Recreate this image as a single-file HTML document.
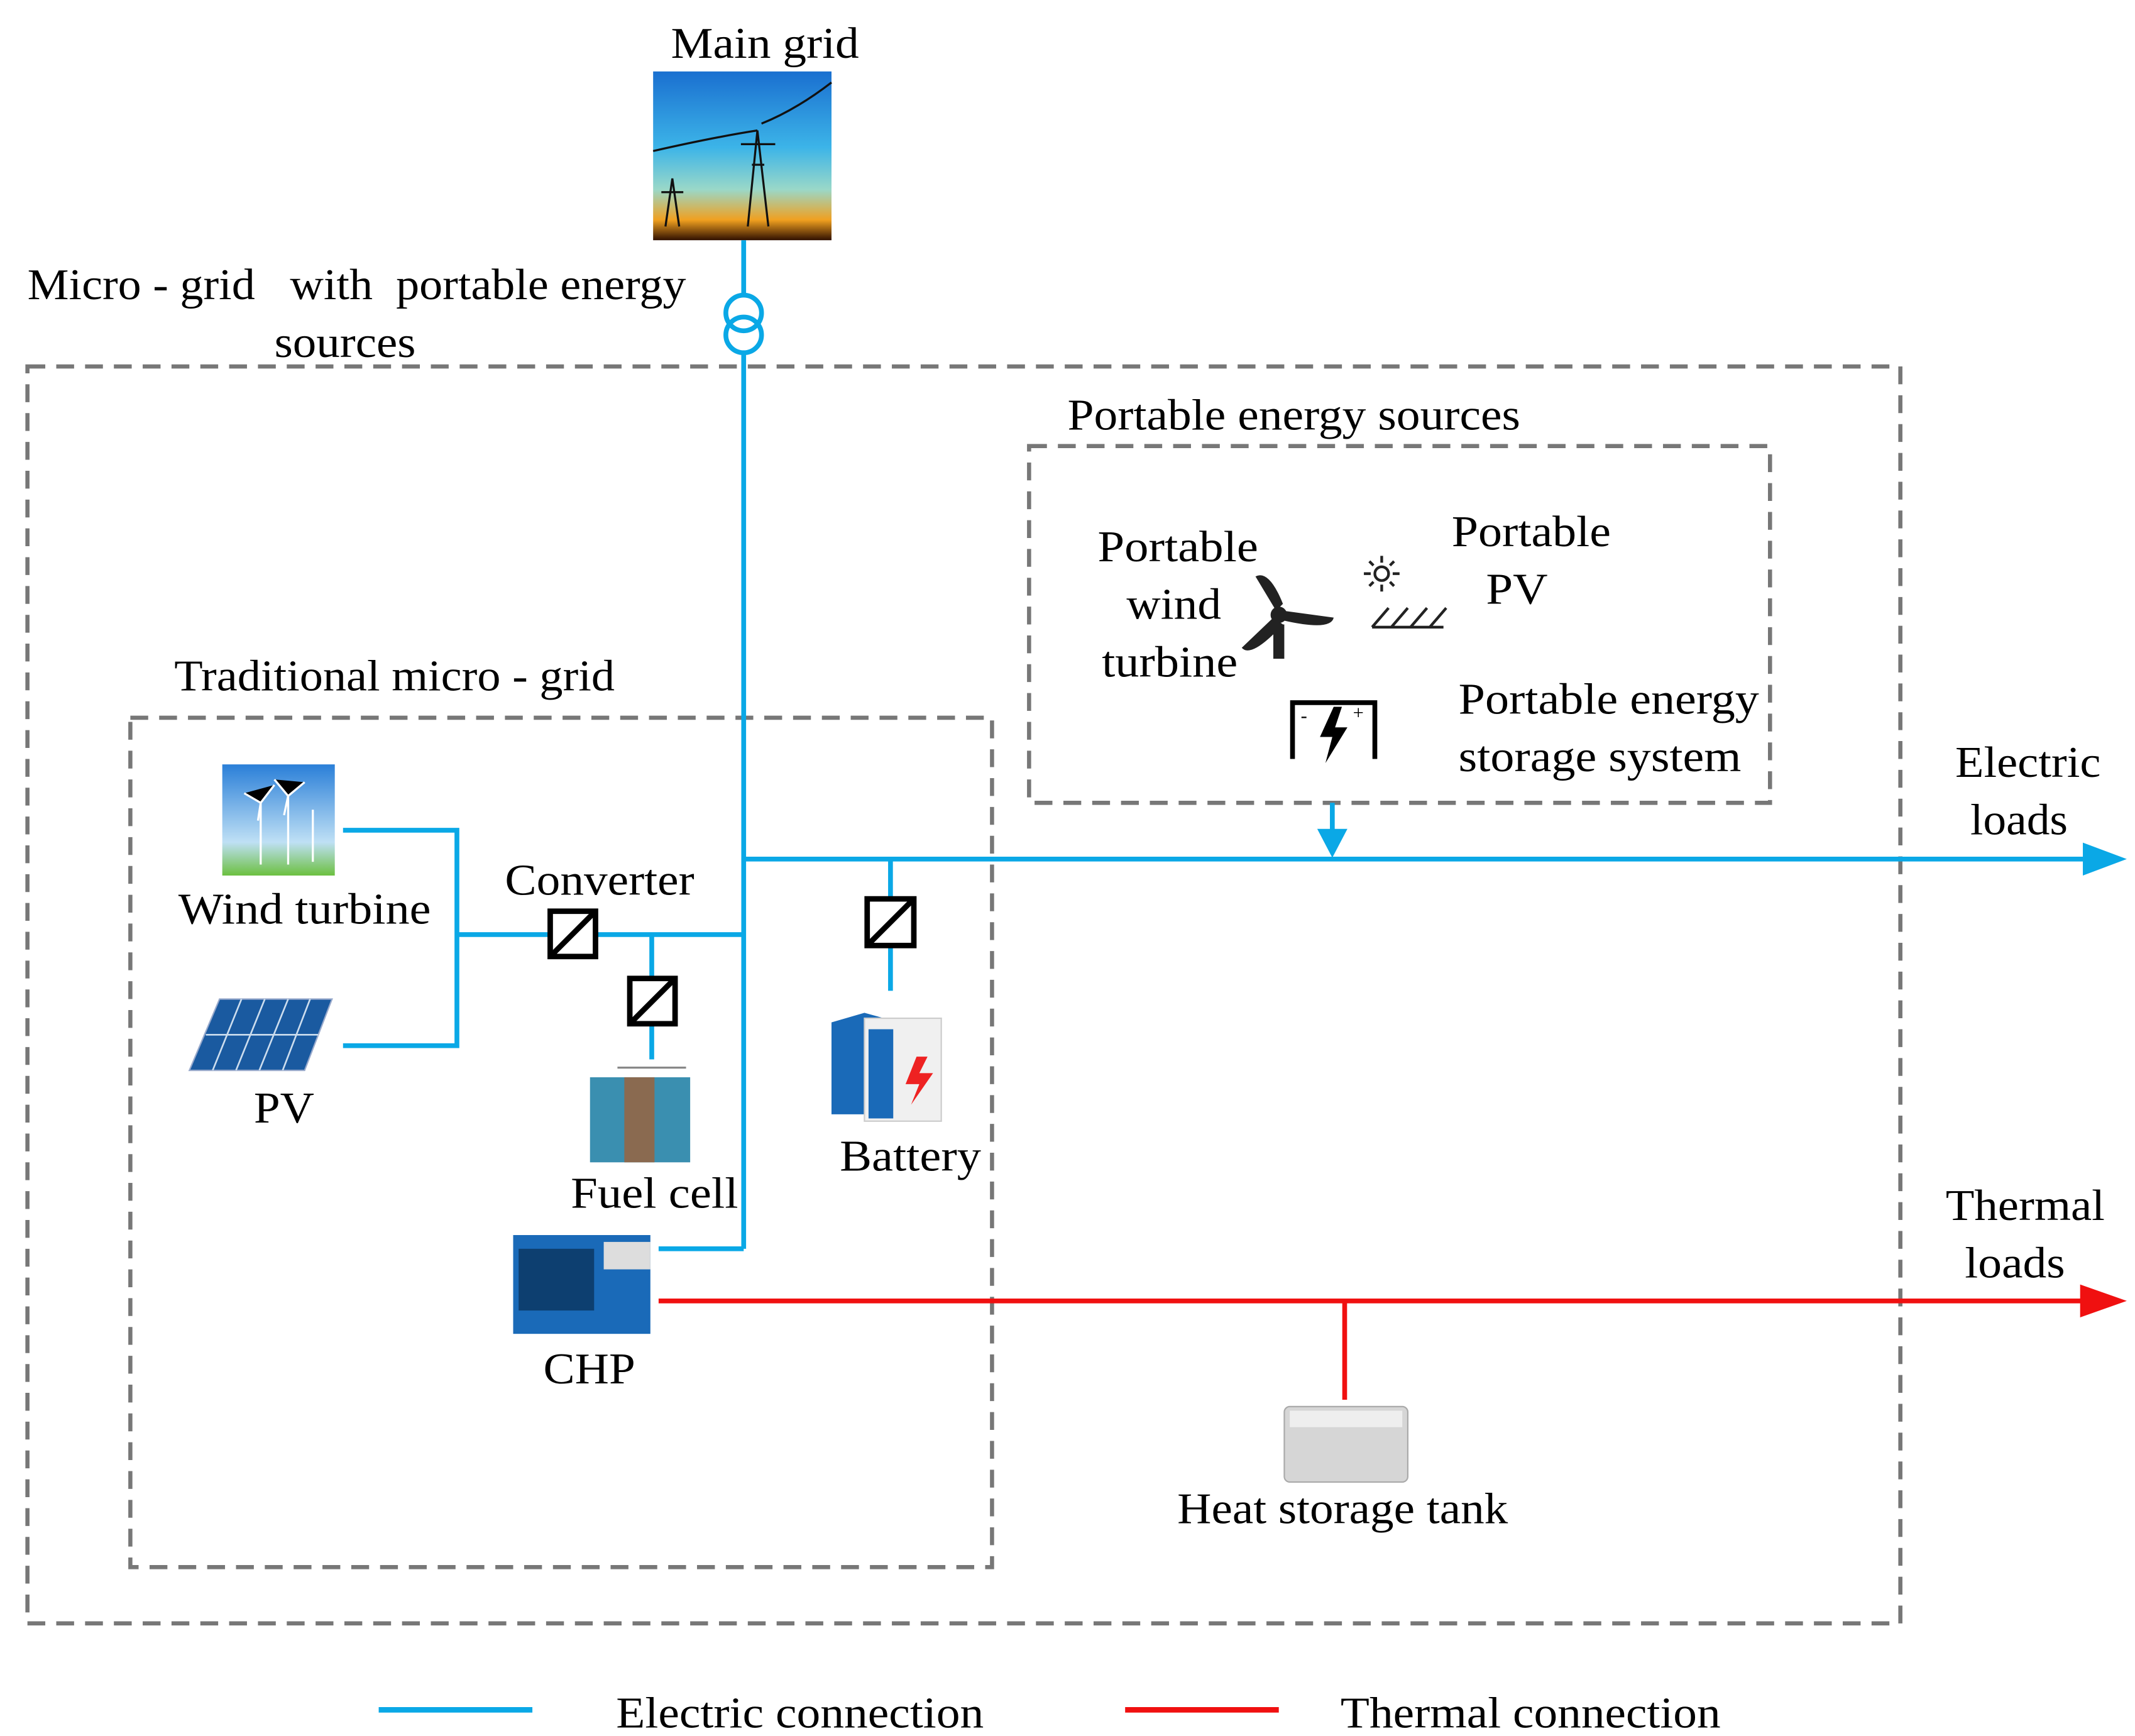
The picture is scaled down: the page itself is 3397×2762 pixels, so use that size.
<!DOCTYPE html>
<html><head><meta charset="utf-8"><style>
html,body{margin:0;padding:0;background:#fff;}
svg{display:block;}
text{font-family:"Liberation Serif",serif;font-size:32px;fill:#000;}
</style></head><body>
<svg width="3397" height="2762" viewBox="0 0 1556 1265" xmlns="http://www.w3.org/2000/svg">
<defs>
<linearGradient id="sky" x1="0" y1="0" x2="0" y2="1">
<stop offset="0" stop-color="#1a6fd0"/><stop offset="0.45" stop-color="#3cb4e8"/><stop offset="0.7" stop-color="#9ad8c8"/><stop offset="0.88" stop-color="#f0a020"/><stop offset="1" stop-color="#301000"/>
</linearGradient>
<linearGradient id="wsky" x1="0" y1="0" x2="0" y2="1"><stop offset="0" stop-color="#2a7fd8"/><stop offset="0.7" stop-color="#bfe0f5"/><stop offset="1" stop-color="#6cc040"/></linearGradient>
</defs>
<text x="489" y="42" textLength="137" lengthAdjust="spacingAndGlyphs">Main grid</text>
<rect x="476" y="52" width="130" height="123" fill="url(#sky)"/>
<g stroke="#111" stroke-width="1.5" fill="none">
<path d="M545 165 L552 95 L560 165 M548 120 L557 120 M540 105 L565 105"/>
<path d="M485 165 L490 130 L495 165 M482 140 L498 140"/>
<path d="M555 90 Q580 80 606 60 M552 95 Q520 100 476 110"/>
</g>
<text x="20" y="218" textLength="480" lengthAdjust="spacingAndGlyphs">Micro - grid &#160; with &#160;portable energy</text>
<text x="200" y="260" textLength="103" lengthAdjust="spacingAndGlyphs">sources</text>
<g fill="none" stroke="#777" stroke-width="3" stroke-dasharray="13 8">
<rect x="20" y="267" width="1365" height="916"/>
<rect x="750" y="325" width="540" height="260"/>
<rect x="95" y="523" width="628" height="619"/>
</g>
<text x="778" y="313" textLength="330" lengthAdjust="spacingAndGlyphs">Portable energy sources</text>
<text x="127" y="503" textLength="321" lengthAdjust="spacingAndGlyphs">Traditional micro - grid</text>
<g stroke="#0aa8e6" stroke-width="3.5" fill="none">
<line x1="542" y1="175" x2="542" y2="215"/>
<circle cx="542" cy="228" r="13"/><circle cx="542" cy="244" r="13"/>
<line x1="542" y1="257" x2="542" y2="910"/>
<line x1="542" y1="626" x2="1518" y2="626"/>
<line x1="971" y1="585" x2="971" y2="608"/>
<line x1="333" y1="681" x2="542" y2="681"/>
<polyline points="250,605 333,605 333,762 250,762"/>
<line x1="475" y1="681" x2="475" y2="772"/>
<line x1="649" y1="626" x2="649" y2="722"/>
<polyline points="480,910 542,910"/>
</g>
<polygon points="1518,614 1550,626 1518,638" fill="#0aa8e6"/>
<polygon points="960,604 982,604 971,625" fill="#0aa8e6"/>
<g stroke="#f01010" stroke-width="3.5"><line x1="480" y1="948" x2="1518" y2="948"/><line x1="980" y1="948" x2="980" y2="1020"/></g>
<polygon points="1516,936 1550,948 1516,960" fill="#f01010"/>
<g fill="#fff" stroke="#000" stroke-width="4">
<rect x="401" y="664" width="33" height="33"/><line x1="401" y1="697" x2="434" y2="664"/>
<rect x="459" y="713" width="33" height="33"/><line x1="459" y1="746" x2="492" y2="713"/>
<rect x="632" y="655" width="34" height="34"/><line x1="632" y1="689" x2="666" y2="655"/>
</g>
<text x="368" y="652" textLength="138" lengthAdjust="spacingAndGlyphs">Converter</text>
<rect x="162" y="557" width="82" height="81" fill="url(#wsky)"/>
<g stroke="#fff" stroke-width="1.5"><line x1="190" y1="630" x2="190" y2="585"/><line x1="210" y1="630" x2="210" y2="580"/><line x1="228" y1="628" x2="228" y2="590"/><path d="M178 578 L190 585 L200 572 M190 585 L188 598"/><path d="M200 568 L210 580 L222 570 M210 580 L207 594"/></g>
<text x="130" y="673" textLength="184" lengthAdjust="spacingAndGlyphs">Wind turbine</text>
<polygon points="160,728 242,728 222,780 138,780" fill="#1a5aa0" stroke="#9ac" stroke-width="1"/>
<g stroke="#cde" stroke-width="1.2"><line x1="176" y1="728" x2="155" y2="780"/><line x1="193" y1="728" x2="172" y2="780"/><line x1="210" y1="728" x2="189" y2="780"/><line x1="226" y1="728" x2="206" y2="780"/><line x1="150" y1="754" x2="232" y2="754"/></g>
<text x="185" y="818" textLength="44" lengthAdjust="spacingAndGlyphs">PV</text>
<rect x="430" y="785" width="73" height="62" fill="#3a8fb0"/>
<rect x="455" y="785" width="22" height="62" fill="#8a6a50"/>
<line x1="450" y1="778" x2="500" y2="778" stroke="#888" stroke-width="1.5"/>
<text x="416" y="880" textLength="122" lengthAdjust="spacingAndGlyphs">Fuel cell</text>
<polygon points="606,745 630,738 655,745 655,812 606,812" fill="#1a6ab8"/>
<rect x="630" y="742" width="56" height="75" fill="#f0f0f0" stroke="#ccc"/>
<rect x="633" y="750" width="18" height="65" fill="#1a6ab8"/>
<polygon points="668,770 660,790 670,790 664,805 680,782 670,782 676,770" fill="#e22"/>
<text x="612" y="853" textLength="103" lengthAdjust="spacingAndGlyphs">Battery</text>
<rect x="374" y="900" width="100" height="72" fill="#1a6ab8"/>
<rect x="440" y="905" width="34" height="20" fill="#ddd"/>
<rect x="378" y="910" width="55" height="45" fill="#0d3f70"/>
<text x="396" y="1008" textLength="67" lengthAdjust="spacingAndGlyphs">CHP</text>
<rect x="936" y="1025" width="90" height="55" rx="4" fill="#d6d6d6" stroke="#aaa"/>
<rect x="940" y="1028" width="82" height="12" fill="#eee"/>
<text x="858" y="1110" textLength="241" lengthAdjust="spacingAndGlyphs">Heat storage tank</text>
<text x="800" y="409" textLength="117" lengthAdjust="spacingAndGlyphs">Portable</text>
<text x="821" y="451" textLength="69" lengthAdjust="spacingAndGlyphs">wind</text>
<text x="803" y="493" textLength="99" lengthAdjust="spacingAndGlyphs">turbine</text>
<g fill="#222"><path d="M930 445 L915 420 Q925 415 935 440 Z"/><path d="M935 445 L972 450 Q970 460 935 452 Z"/><path d="M928 450 L905 472 Q912 480 935 455 Z"/><circle cx="932" cy="448" r="6"/><rect x="928" y="455" width="8" height="25"/></g>
<g stroke="#222" stroke-width="2" fill="none"><circle cx="1007" cy="418" r="5"/><path d="M1007 405v5M1007 426v5M994 418h5M1015 418h5M998 409l3 3M1013 424l3 3M1016 409l-3 3M1001 424l-3 3"/><path d="M1000 457l12-14M1014 457l12-14M1028 457l12-14M1042 457l12-14M1000 457h52"/></g>
<text x="1058" y="398" textLength="116" lengthAdjust="spacingAndGlyphs">Portable</text>
<text x="1083" y="440" textLength="45" lengthAdjust="spacingAndGlyphs">PV</text>
<g stroke="#000" stroke-width="3.5" fill="none"><path d="M942 553 V512 H1002 V553"/></g>
<polygon points="972,515 962,537 971,537 966,556 982,530 973,530 978,515" fill="#000"/>
<text x="948" y="526" style="font-size:14px">-</text><text x="986" y="524" style="font-size:14px">+</text>
<text x="1063" y="520" textLength="219" lengthAdjust="spacingAndGlyphs">Portable energy</text>
<text x="1063" y="562" textLength="206" lengthAdjust="spacingAndGlyphs">storage system</text>
<text x="1425" y="566" textLength="106" lengthAdjust="spacingAndGlyphs">Electric</text>
<text x="1436" y="608" textLength="71" lengthAdjust="spacingAndGlyphs">loads</text>
<text x="1418" y="889" textLength="116" lengthAdjust="spacingAndGlyphs">Thermal</text>
<text x="1432" y="931" textLength="73" lengthAdjust="spacingAndGlyphs">loads</text>
<line x1="276" y1="1246" x2="388" y2="1246" stroke="#0aa8e6" stroke-width="4"/>
<text x="449" y="1259" textLength="268" lengthAdjust="spacingAndGlyphs">Electric connection</text>
<line x1="820" y1="1246" x2="932" y2="1246" stroke="#f01010" stroke-width="4"/>
<text x="977" y="1259" textLength="277" lengthAdjust="spacingAndGlyphs">Thermal connection</text>
</svg>
</body></html>
